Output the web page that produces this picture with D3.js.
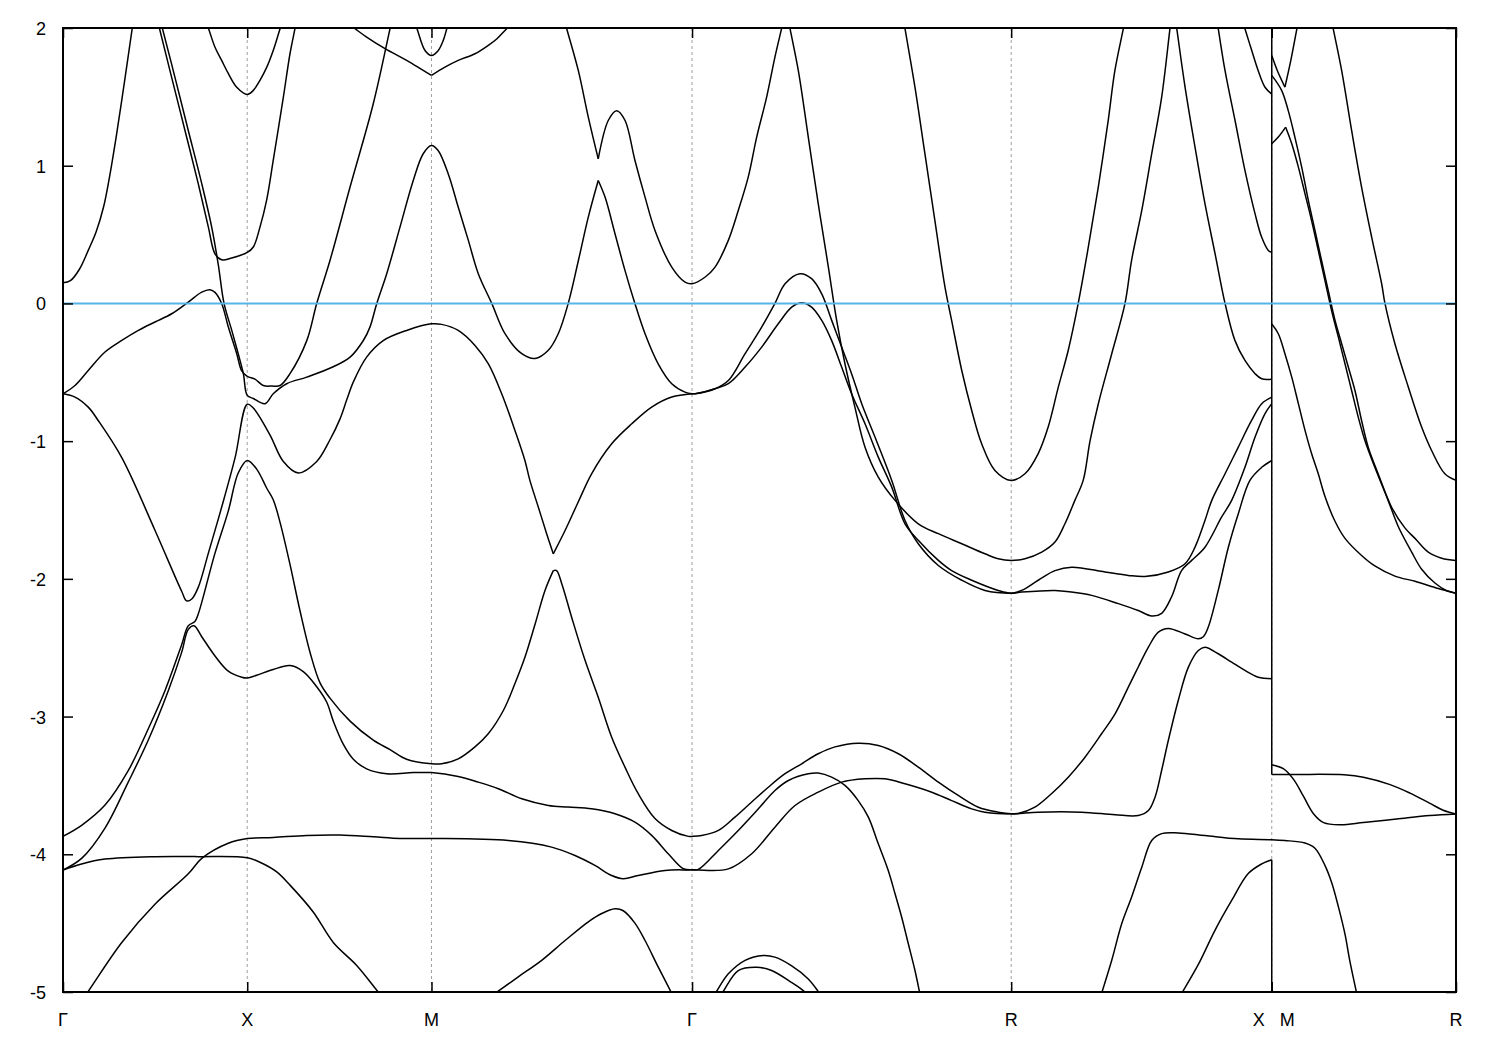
<!DOCTYPE html>
<html><head><meta charset="utf-8">
<script src="https://cdn.jsdelivr.net/npm/d3@7"></script>
<style>body{margin:0;background:#fff}svg text{font-family:"Liberation Sans",Arial,sans-serif;font-size:18px;fill:#000}</style>
</head><body><svg id="c" width="1500" height="1050"></svg>
<script>
// high-symmetry points along the k-path
const kPoints = [0, 1, 2, 3.4142, 5.1463, 6.5605, 7.5605];
const kLabels = ["Γ", "X", "M", "Γ", "R", "X M", "R"];
const yTicks = [2, 1, 0, -1, -2, -3, -4, -5];
const fermiLevel = 0;
const breakK = 6.5605;                 // X | M discontinuity
const breakLinks = [[2.2, -3.42], [-4.04, -5.2]];

// band curves: [k, E]
const band01 = [[0,0.15],[0.04,0.165],[0.09,0.25],[0.137,0.385],[0.18,0.52],[0.22,0.7],[0.25,0.9],[0.291,1.23],[0.337,1.64],[0.376,2.0],[0.405,2.25]];
const band02 = [[0.476,2.25],[0.523,2.0],[0.59,1.64],[0.662,1.256],[0.734,0.87],[0.789,0.554],[0.825,0.36],[0.861,0.317],[0.916,0.33],[1.0,0.37],[1.033,0.41],[1.069,0.554],[1.105,0.748],[1.141,1.038],[1.196,1.498],[1.232,1.813],[1.259,1.995],[1.29,2.2]];
const band03 = [[0.491,2.25],[0.539,2.0],[0.608,1.64],[0.68,1.256],[0.753,0.87],[0.807,0.554],[0.843,0.28],[0.874,0],[0.916,-0.196],[0.951,-0.365],[0.979,-0.51],[1.0,-0.668],[1.033,-0.69],[1.096,-0.728],[1.141,-0.656],[1.214,-0.583],[1.323,-0.535],[1.467,-0.46],[1.558,-0.39],[1.63,-0.269],[1.666,-0.172],[1.703,0],[1.757,0.216],[1.829,0.554],[1.901,0.893],[1.955,1.087],[2.0,1.147],[2.036,1.11],[2.091,0.94],[2.145,0.70],[2.2,0.458],[2.254,0.216],[2.327,0],[2.399,-0.22],[2.49,-0.365],[2.562,-0.40],[2.634,-0.34],[2.688,-0.22],[2.742,0],[2.797,0.31],[2.851,0.627],[2.905,0.893]];
const band04 = [[2.905,0.893],[2.942,0.772],[2.996,0.506],[3.05,0.24],[3.104,0],[3.159,-0.22],[3.231,-0.44],[3.304,-0.583],[3.376,-0.644],[3.4142,-0.656]];
const band05 = [[0,-0.656],[0.065,-0.596],[0.137,-0.487],[0.228,-0.353],[0.319,-0.269],[0.409,-0.196],[0.499,-0.135],[0.59,-0.075],[0.68,0.01],[0.753,0.082],[0.798,0.1],[0.825,0.08],[0.861,0],[0.897,-0.17],[0.943,-0.365],[0.97,-0.49],[1.0,-0.53],[1.042,-0.55],[1.087,-0.596],[1.134,-0.6],[1.178,-0.596],[1.232,-0.51],[1.323,-0.27],[1.377,0],[1.449,0.312],[1.558,0.845],[1.684,1.45],[1.775,1.995],[1.809,2.2]];
const band06 = [[0,-0.656],[0.065,-0.68],[0.137,-0.753],[0.191,-0.85],[0.319,-1.12],[0.499,-1.647],[0.644,-2.09],[0.671,-2.16],[0.699,-2.146],[0.734,-2.062],[0.789,-1.813],[0.861,-1.48],[0.934,-1.12],[1.0,-0.732],[1.033,-0.76],[1.123,-0.954],[1.196,-1.148],[1.277,-1.231],[1.377,-1.148],[1.449,-0.99],[1.503,-0.84],[1.54,-0.70],[1.576,-0.57],[1.648,-0.39],[1.738,-0.27],[1.865,-0.196],[2.0,-0.148],[2.055,-0.152],[2.145,-0.196],[2.236,-0.305],[2.308,-0.438],[2.381,-0.656],[2.453,-0.922],[2.507,-1.14],[2.534,-1.285],[2.58,-1.48],[2.625,-1.672],[2.661,-1.818]];
const band07 = [[2.661,-1.818],[2.725,-1.649],[2.797,-1.44],[2.869,-1.237],[2.978,-1.019],[3.087,-0.874],[3.195,-0.753],[3.304,-0.68],[3.4142,-0.656]];
const band08 = [[0,-3.87],[0.101,-3.79],[0.228,-3.643],[0.354,-3.393],[0.463,-3.088],[0.554,-2.81],[0.644,-2.478],[0.68,-2.34],[0.716,-2.31],[0.734,-2.256],[0.825,-1.813],[0.897,-1.508],[0.951,-1.231],[1.0,-1.14],[1.051,-1.203],[1.106,-1.342],[1.141,-1.425],[1.178,-1.59],[1.232,-1.895],[1.286,-2.23],[1.341,-2.535],[1.395,-2.755],[1.449,-2.866],[1.558,-3.033],[1.684,-3.171],[1.775,-3.24],[1.865,-3.31],[2.0,-3.343],[2.055,-3.343],[2.145,-3.307],[2.236,-3.22],[2.308,-3.125],[2.39,-2.956],[2.453,-2.76],[2.507,-2.57],[2.562,-2.33],[2.616,-2.084],[2.661,-1.94]];
const band09 = [[2.661,-1.94],[2.679,-1.94],[2.707,-2.035],[2.761,-2.28],[2.833,-2.59],[2.905,-2.86],[2.978,-3.15],[3.05,-3.367],[3.122,-3.56],[3.213,-3.74],[3.304,-3.827],[3.394,-3.87],[3.4142,-3.87],[3.466,-3.864],[3.557,-3.827],[3.647,-3.73],[3.738,-3.62],[3.828,-3.513],[3.919,-3.415],[4.009,-3.343],[4.099,-3.27],[4.19,-3.22],[4.316,-3.193],[4.425,-3.21],[4.534,-3.27],[4.642,-3.367],[4.751,-3.476],[4.859,-3.573],[4.968,-3.658],[5.076,-3.694],[5.1463,-3.706],[5.184,-3.704],[5.275,-3.658],[5.365,-3.56],[5.456,-3.44],[5.547,-3.295],[5.637,-3.125],[5.71,-2.98],[5.782,-2.786],[5.836,-2.64],[5.891,-2.496],[5.945,-2.387],[5.999,-2.36],[6.09,-2.40],[6.162,-2.435],[6.189,-2.42],[6.216,-2.35],[6.27,-2.084],[6.325,-1.77],[6.379,-1.527],[6.442,-1.285],[6.506,-1.19],[6.5605,-1.14]];
const band10 = [[0,-4.114],[0.101,-4.03],[0.228,-3.81],[0.354,-3.476],[0.463,-3.17],[0.572,-2.81],[0.644,-2.534],[0.68,-2.367],[0.711,-2.34],[0.753,-2.42],[0.825,-2.56],[0.897,-2.67],[0.97,-2.714],[1.0,-2.72],[1.051,-2.70],[1.141,-2.658],[1.232,-2.63],[1.304,-2.673],[1.377,-2.783],[1.431,-2.894],[1.467,-3.033],[1.521,-3.2],[1.576,-3.31],[1.648,-3.38],[1.757,-3.415],[1.901,-3.407],[2.0,-3.407],[2.145,-3.435],[2.254,-3.476],[2.363,-3.524],[2.49,-3.597],[2.634,-3.645],[2.742,-3.657],[2.869,-3.67],[2.996,-3.706],[3.104,-3.767],[3.195,-3.863],[3.285,-3.996],[3.367,-4.105],[3.4142,-4.113],[3.448,-4.11],[3.557,-3.972],[3.665,-3.827],[3.774,-3.67],[3.864,-3.537],[3.937,-3.464],[4.045,-3.415],[4.099,-3.41],[4.172,-3.44],[4.244,-3.50],[4.316,-3.61],[4.371,-3.73],[4.425,-3.924],[4.479,-4.118],[4.516,-4.287],[4.552,-4.457],[4.588,-4.65],[4.624,-4.844],[4.651,-5.013],[4.681,-5.2]];
const band11 = [[0,-4.114],[0.101,-4.07],[0.228,-4.035],[0.499,-4.017],[0.734,-4.017],[1.0,-4.025],[1.069,-4.058],[1.16,-4.128],[1.232,-4.224],[1.358,-4.419],[1.467,-4.64],[1.594,-4.807],[1.703,-4.987],[1.83,-5.2]];
const band12 = [[0.032,-5.2],[0.137,-4.995],[0.319,-4.64],[0.499,-4.363],[0.68,-4.142],[0.753,-4.03],[0.897,-3.92],[1.0,-3.886],[1.141,-3.878],[1.323,-3.863],[1.503,-3.86],[1.684,-3.873],[1.829,-3.885],[2.0,-3.885],[2.417,-3.90],[2.652,-3.948],[2.779,-4.009],[2.887,-4.081],[2.978,-4.154],[3.041,-4.178],[3.122,-4.154],[3.267,-4.117],[3.4142,-4.113],[3.611,-4.106],[3.738,-3.996],[3.864,-3.803],[3.973,-3.646],[4.099,-3.549],[4.226,-3.476],[4.353,-3.452],[4.461,-3.452],[4.57,-3.488],[4.715,-3.549],[4.823,-3.61],[4.932,-3.67],[5.004,-3.694],[5.1463,-3.706],[5.293,-3.694],[5.528,-3.694],[5.71,-3.713],[5.836,-3.718],[5.891,-3.682],[5.927,-3.585],[5.963,-3.39],[5.999,-3.174],[6.053,-2.883],[6.108,-2.641],[6.162,-2.52],[6.198,-2.496],[6.27,-2.544],[6.343,-2.605],[6.415,-2.665],[6.487,-2.714],[6.5605,-2.725]];
const band13 = [[2.692,2.2],[2.734,1.995],[2.797,1.69],[2.851,1.353],[2.905,1.05]];
const band14 = [[2.905,1.05],[2.96,1.33],[3.005,1.40],[3.05,1.33],[3.104,1.04],[3.159,0.772],[3.213,0.53],[3.304,0.264],[3.376,0.155],[3.4142,0.143],[3.484,0.19],[3.539,0.264],[3.611,0.458],[3.665,0.675],[3.719,0.917],[3.765,1.208],[3.819,1.498],[3.864,1.789],[3.9,1.995],[3.925,2.14],[3.946,1.995],[3.991,1.69],[4.045,1.208],[4.099,0.724],[4.154,0.264],[4.199,-0.123],[4.244,-0.438],[4.298,-0.753],[4.353,-1.044],[4.425,-1.261],[4.516,-1.43],[4.642,-1.60],[4.751,-1.672],[4.878,-1.745],[5.004,-1.818],[5.076,-1.854],[5.1463,-1.866],[5.221,-1.854],[5.312,-1.806],[5.384,-1.733],[5.438,-1.6],[5.492,-1.43],[5.537,-1.285],[5.574,-1.0],[5.619,-0.73],[5.692,-0.365],[5.764,0],[5.8,0.315],[5.855,0.675],[5.909,1.087],[5.963,1.498],[6.008,1.995],[6.025,2.18],[6.045,1.995],[6.09,1.571],[6.144,1.135],[6.198,0.724],[6.253,0.36],[6.307,0],[6.361,-0.27],[6.415,-0.414],[6.47,-0.51],[6.506,-0.547],[6.5605,-0.55]];
const band15 = [[3.4142,-0.656],[3.431,-0.656],[3.539,-0.62],[3.611,-0.56],[3.702,-0.365],[3.792,-0.172],[3.864,0],[3.919,0.143],[4.0,0.216],[4.063,0.18],[4.118,0.07],[4.172,-0.123],[4.226,-0.317],[4.28,-0.51],[4.335,-0.728],[4.407,-0.97],[4.498,-1.285],[4.57,-1.576],[4.642,-1.745],[4.751,-1.903],[4.878,-2.01],[5.004,-2.084],[5.1463,-2.104],[5.203,-2.096],[5.384,-2.084],[5.475,-2.096],[5.583,-2.12],[5.728,-2.18],[5.836,-2.23],[5.909,-2.27],[5.963,-2.25],[6.017,-2.13],[6.071,-1.94],[6.126,-1.866],[6.198,-1.77],[6.288,-1.552],[6.343,-1.43],[6.415,-1.19],[6.47,-0.97],[6.524,-0.80],[6.5605,-0.728]];
const band16 = [[3.4142,-0.656],[3.431,-0.656],[3.539,-0.62],[3.611,-0.583],[3.702,-0.462],[3.792,-0.317],[3.882,-0.148],[3.955,-0.027],[4.009,0.005],[4.063,-0.027],[4.118,-0.123],[4.172,-0.27],[4.226,-0.462],[4.28,-0.656],[4.353,-0.874],[4.425,-1.116],[4.498,-1.334],[4.57,-1.60],[4.642,-1.72],[4.751,-1.866],[4.823,-1.94],[4.932,-2.01],[5.076,-2.084],[5.1463,-2.104],[5.203,-2.084],[5.293,-2.01],[5.384,-1.94],[5.475,-1.915],[5.655,-1.95],[5.782,-1.975],[5.872,-1.983],[5.999,-1.95],[6.09,-1.89],[6.144,-1.77],[6.198,-1.576],[6.235,-1.43],[6.307,-1.237],[6.379,-1.043],[6.451,-0.85],[6.506,-0.728],[6.5605,-0.68]];
const band17 = [[4.544,2.2],[4.57,1.995],[4.624,1.571],[4.678,1.087],[4.732,0.603],[4.787,0.118],[4.823,-0.123],[4.878,-0.487],[4.932,-0.777],[4.986,-1.019],[5.058,-1.213],[5.1463,-1.285],[5.221,-1.237],[5.293,-1.09],[5.347,-0.898],[5.402,-0.608],[5.456,-0.34],[5.51,0],[5.565,0.41],[5.619,0.845],[5.673,1.33],[5.709,1.69],[5.755,1.995],[5.786,2.2]];
const band18 = [[6.245,2.2],[6.27,1.995],[6.307,1.69],[6.361,1.33],[6.415,0.966],[6.47,0.65],[6.506,0.48],[6.542,0.385],[6.5605,0.372]];
const band19 = [[6.367,2.2],[6.415,1.995],[6.451,1.84],[6.487,1.69],[6.524,1.57],[6.5605,1.52]];
const band20 = [[5.593,-5.2],[5.637,-5.01],[5.692,-4.77],[5.746,-4.505],[5.8,-4.31],[5.855,-4.094],[5.909,-3.90],[5.963,-3.85],[6.053,-3.845],[6.198,-3.864],[6.379,-3.888],[6.5605,-3.894],[6.632,-3.90],[6.741,-3.918],[6.795,-3.956],[6.849,-4.08],[6.886,-4.206],[6.922,-4.38],[6.958,-4.58],[6.985,-4.78],[7.021,-5.007],[7.052,-5.2]];
const band21 = [[5.99,-5.2],[6.072,-5.01],[6.162,-4.80],[6.253,-4.55],[6.343,-4.335],[6.433,-4.14],[6.506,-4.07],[6.5605,-4.04]];
const band22 = [[3.445,-5.2],[3.539,-5.013],[3.611,-4.868],[3.702,-4.77],[3.801,-4.735],[3.864,-4.747],[3.955,-4.81],[4.045,-4.905],[4.109,-5.013],[4.22,-5.2]];
const band23 = [[3.476,-5.2],[3.575,-5.013],[3.665,-4.844],[3.765,-4.82],[3.846,-4.844],[3.937,-4.916],[4.036,-5.013],[4.12,-5.2]];
const band24 = [[2.145,-5.2],[2.345,-5.01],[2.471,-4.89],[2.598,-4.77],[2.725,-4.626],[2.851,-4.49],[2.924,-4.43],[2.996,-4.396],[3.041,-4.41],[3.104,-4.50],[3.159,-4.626],[3.231,-4.82],[3.304,-5.01],[3.377,-5.2]];
const band25 = [[0.738,2.2],[0.789,2.0],[0.825,1.86],[0.861,1.765],[0.897,1.67],[0.943,1.57],[1.0,1.518],[1.033,1.547],[1.069,1.62],[1.106,1.716],[1.141,1.837],[1.178,1.995],[1.226,2.2]];
const band26 = [[1.48,2.1],[1.585,1.995],[1.648,1.934],[1.748,1.85],[1.865,1.765],[1.955,1.692],[2.0,1.656]];
const band27 = [[2.0,1.656],[2.073,1.716],[2.145,1.765],[2.236,1.813],[2.308,1.874],[2.354,1.92],[2.408,1.995],[2.5,2.12]];
const band28 = [[1.865,2.2],[1.92,2.0],[1.965,1.837],[2.0,1.80],[2.037,1.837],[2.064,1.91],[2.083,1.995],[2.128,2.2]];
const band29 = [[6.5605,1.80],[6.591,1.69],[6.632,1.571]];
const band30 = [[6.632,1.571],[6.664,1.765],[6.697,1.995],[6.726,2.2]];
const band31 = [[6.5605,1.656],[6.614,1.547],[6.65,1.40],[6.686,1.208],[6.723,0.99],[6.759,0.748],[6.795,0.53],[6.831,0.31],[6.867,0.094],[6.904,-0.123],[6.94,-0.293],[6.976,-0.462],[7.012,-0.632],[7.048,-0.85],[7.084,-1.044],[7.138,-1.237],[7.211,-1.48],[7.283,-1.63],[7.338,-1.706],[7.41,-1.806],[7.483,-1.85],[7.5605,-1.866]];
const band32 = [[6.5605,1.16],[6.596,1.208],[6.636,1.28]];
const band33 = [[6.636,1.28],[6.669,1.16],[6.705,0.99],[6.741,0.796],[6.777,0.60],[6.813,0.385],[6.849,0.167],[6.885,-0.05],[6.922,-0.245],[6.958,-0.438],[6.994,-0.632],[7.03,-0.826],[7.066,-0.995],[7.12,-1.19],[7.192,-1.43],[7.247,-1.62],[7.32,-1.806],[7.374,-1.93],[7.446,-2.03],[7.51,-2.086],[7.5605,-2.104]];
const band34 = [[6.5605,-0.15],[6.596,-0.22],[6.632,-0.365],[6.669,-0.535],[6.705,-0.728],[6.741,-0.922],[6.777,-1.092],[6.813,-1.237],[6.849,-1.4],[6.903,-1.58],[6.958,-1.706],[7.048,-1.83],[7.12,-1.906],[7.229,-1.98],[7.338,-2.018],[7.464,-2.07],[7.5605,-2.104]];
const band35 = [[6.863,2.2],[6.894,1.995],[6.94,1.69],[6.994,1.256],[7.048,0.845],[7.103,0.48],[7.157,0.143],[7.175,0],[7.229,-0.293],[7.302,-0.608],[7.374,-0.898],[7.428,-1.068],[7.5,-1.237],[7.5605,-1.285]];
const band36 = [[6.5605,-3.35],[6.625,-3.38],[6.679,-3.456],[6.733,-3.58],[6.788,-3.707],[6.842,-3.77],[6.932,-3.786],[7.058,-3.77],[7.238,-3.744],[7.419,-3.718],[7.5605,-3.707]];
const band37 = [[6.5605,-3.42],[6.699,-3.42],[6.953,-3.423],[7.058,-3.44],[7.203,-3.494],[7.311,-3.556],[7.419,-3.63],[7.491,-3.68],[7.5605,-3.707]];

const bands = [band01,band02,band03,band04,band05,band06,band07,band08,band09,band10,band11,band12,band13,band14,band15,band16,band17,band18,band19,band20,band21,band22,band23,band24,band25,band26,band27,band28,band29,band30,band31,band32,band33,band34,band35,band36,band37];

// ---------- drawing ----------
const P = {left: 63, right: 1456, top: 28, bottom: 992};
const x = d3.scaleLinear().domain([kPoints[0], kPoints[kPoints.length-1]]).range([P.left, P.right]);
const y = d3.scaleLinear().domain([-5, 2]).range([P.bottom, P.top]);
const svg = d3.select("#c");

svg.append("defs").append("clipPath").attr("id", "clip").append("rect")
  .attr("x", P.left).attr("y", P.top).attr("width", P.right - P.left).attr("height", P.bottom - P.top);

// vertical grid at interior symmetry points
svg.append("g").selectAll("line").data(kPoints.slice(1, -1)).join("line")
  .attr("x1", d => x(d)).attr("x2", d => x(d)).attr("y1", P.top).attr("y2", P.bottom)
  .attr("stroke", "#a0a0a0").attr("stroke-width", 1).attr("stroke-dasharray", "3,3");

const plot = svg.append("g").attr("clip-path", "url(#clip)");
const line = d3.line().x(d => x(d[0])).y(d => y(d[1])).curve(d3.curveCatmullRom.alpha(0.5));

plot.selectAll("path.band").data(bands).join("path").attr("class", "band")
  .attr("d", line).attr("fill", "none").attr("stroke", "#000").attr("stroke-width", 1.5)
  .attr("stroke-linejoin", "round");

plot.selectAll("line.brk").data(breakLinks).join("line").attr("class", "brk")
  .attr("x1", x(breakK)).attr("x2", x(breakK)).attr("y1", d => y(d[0])).attr("y2", d => y(d[1]))
  .attr("stroke", "#000").attr("stroke-width", 1.5);

// Fermi level
plot.append("line").attr("x1", P.left).attr("x2", P.right)
  .attr("y1", y(fermiLevel)).attr("y2", y(fermiLevel))
  .attr("stroke", "#56b4e9").attr("stroke-width", 2);

// axes (ticks inside)
const axL = svg.append("g").attr("transform", `translate(${P.left},0)`)
  .call(d3.axisLeft(y).tickValues(yTicks).tickSize(-10).tickPadding(17).tickFormat(d => String(d)));
const axR = svg.append("g").attr("transform", `translate(${P.right},0)`)
  .call(d3.axisRight(y).tickValues(yTicks).tickSize(-10).tickFormat(""));
const axB = svg.append("g").attr("transform", `translate(0,${P.bottom})`)
  .call(d3.axisBottom(x).tickValues(kPoints).tickSize(-10).tickFormat(""));
const axT = svg.append("g").attr("transform", `translate(0,${P.top})`)
  .call(d3.axisTop(x).tickValues(kPoints).tickSize(-10).tickFormat(""));
[axL, axR, axB, axT].forEach(a => {
  a.select(".domain").remove();
  a.selectAll(".tick line").attr("stroke", "#000").attr("stroke-width", 1.5);
  a.selectAll("text").attr("font-size", 18).attr("font-family", "Liberation Sans, Arial, sans-serif").attr("fill", "#000");
});
axL.selectAll("text").attr("dy", "0.36em");

// frame
svg.append("rect").attr("x", P.left).attr("y", P.top).attr("width", P.right - P.left).attr("height", P.bottom - P.top)
  .attr("fill", "none").attr("stroke", "#000").attr("stroke-width", 2);

// k-point labels
const lab = svg.append("g");
kPoints.forEach((k, i) => {
  const parts = kLabels[i].split(" ");
  if (parts.length === 1) {
    lab.append("text").attr("x", x(k)).attr("y", P.bottom + 34).attr("text-anchor", "middle").text(parts[0]);
  } else {
    lab.append("text").attr("x", x(k) - 7).attr("y", P.bottom + 34).attr("text-anchor", "end").text(parts[0]);
    lab.append("text").attr("x", x(k) + 8).attr("y", P.bottom + 34).attr("text-anchor", "start").text(parts[1]);
  }
});
</script></body></html>
